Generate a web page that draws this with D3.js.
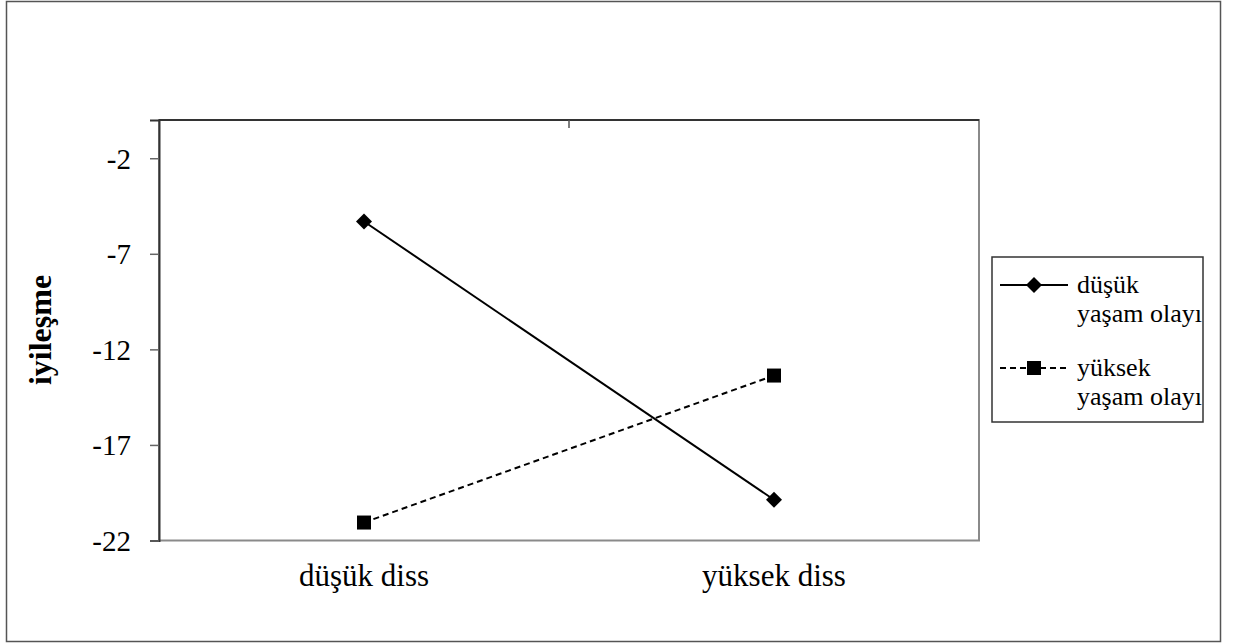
<!DOCTYPE html>
<html>
<head>
<meta charset="utf-8">
<script src="https://cdn.jsdelivr.net/npm/d3@7"></script>
<style>
  html, body { margin: 0; padding: 0; background: #fff; }
  svg { display: block; }
</style>
</head>
<body>
<svg id="chart" width="1233" height="643"></svg>
<script>
// ---- data ----
const categories = ["düşük diss", "yüksek diss"];
const seriesNames = ["düşük yaşam olayı", "yüksek yaşam olayı"];
const lowLifeEvents = [-5.31, -19.87];
const highLifeEvents = [-21.06, -13.37];
const yTicks = [-2, -7, -12, -17, -22];
const yDomain = [-22, 0];
const yTitle = "iyileşme";

const FONT = "'Liberation Serif', 'Times New Roman', Times, serif";

const series = [
  { name: seriesNames[0], values: lowLifeEvents, dash: null, marker: "diamond" },
  { name: seriesNames[1], values: highLifeEvents, dash: "6,4", marker: "square" }
];

const svg = d3.select("#chart");

// outer frame
svg.append("rect")
  .attr("x", 6.5).attr("y", 1.5).attr("width", 1214).attr("height", 640)
  .attr("fill", "#fff").attr("stroke", "#555").attr("stroke-width", 1.5);

const plot = { left: 159, right: 979, top: 120, bottom: 540.5 };

const x = d3.scaleBand().domain(categories).range([plot.left, plot.right]);
const y = d3.scaleLinear().domain(yDomain).range([plot.bottom, plot.top]);

// plot area border
svg.append("rect")
  .attr("x", plot.left).attr("y", plot.top)
  .attr("width", plot.right - plot.left).attr("height", plot.bottom - plot.top)
  .attr("fill", "none").attr("stroke", "#8a8a8a").attr("stroke-width", 2);

// top line (category axis line) and middle tick
svg.append("line")
  .attr("x1", plot.left).attr("x2", plot.right)
  .attr("y1", plot.top).attr("y2", plot.top)
  .attr("stroke", "#333").attr("stroke-width", 2);
svg.append("line")
  .attr("x1", x(categories[1])).attr("x2", x(categories[1]))
  .attr("y1", plot.top).attr("y2", plot.top + 8)
  .attr("stroke", "#555").attr("stroke-width", 1.5);

// y axis
const yAxis = d3.axisLeft(y).tickValues(yTicks).tickSize(9).tickPadding(19)
  .tickFormat(d => String(d));
const yg = svg.append("g").attr("transform", `translate(${plot.left},0)`).call(yAxis);
yg.attr("font-family", FONT).attr("font-size", 29);
yg.select(".domain").attr("stroke", "#333").attr("stroke-width", 2);
yg.selectAll(".tick line").attr("stroke", "#666").attr("stroke-width", 1.5);
yg.selectAll(".tick text")
  .attr("font-family", FONT).attr("font-size", 29)
  .attr("fill", "#000").attr("dy", "0.34em");

// y title
svg.append("text")
  .attr("transform", `translate(40,330) rotate(-90)`)
  .attr("text-anchor", "middle")
  .attr("dy", "0.35em")
  .attr("font-family", FONT)
  .attr("font-size", 32).attr("font-weight", "bold")
  .text(yTitle);

// category labels
svg.selectAll(".cat").data(categories).join("text")
  .attr("class", "cat")
  .attr("x", d => x(d) + x.bandwidth() / 2)
  .attr("y", 586)
  .attr("text-anchor", "middle")
  .attr("font-family", FONT)
  .attr("font-size", 31)
  .text(d => d);

const cx = d => x(d) + x.bandwidth() / 2;
const line = d3.line().x(d => cx(d.cat)).y(d => y(d.v));

function drawMarker(g, type, px, py) {
  if (type === "diamond") {
    g.append("path")
      .attr("d", `M${px},${py - 8}L${px + 8},${py}L${px},${py + 8}L${px - 8},${py}Z`)
      .attr("fill", "#000");
  } else {
    g.append("rect")
      .attr("x", px - 7).attr("y", py - 7).attr("width", 14).attr("height", 14)
      .attr("fill", "#000");
  }
}

series.forEach(s => {
  const pts = categories.map((c, i) => ({ cat: c, v: s.values[i] }));
  svg.append("path")
    .datum(pts)
    .attr("d", line)
    .attr("fill", "none").attr("stroke", "#000").attr("stroke-width", 2)
    .attr("stroke-dasharray", s.dash);
  const g = svg.append("g");
  pts.forEach(p => drawMarker(g, s.marker, cx(p.cat), y(p.v)));
});

// legend
const legend = svg.append("g");
legend.append("rect")
  .attr("x", 992).attr("y", 257).attr("width", 211).attr("height", 165)
  .attr("fill", "#fff").attr("stroke", "#333").attr("stroke-width", 1.5);

const legendRows = [
  { s: series[0], lineY: 285, text: ["düşük", "yaşam olayı"], baseY: 293 },
  { s: series[1], lineY: 368, text: ["yüksek", "yaşam olayı"], baseY: 376 }
];
legendRows.forEach(r => {
  legend.append("line")
    .attr("x1", 1000).attr("x2", 1068).attr("y1", r.lineY).attr("y2", r.lineY)
    .attr("stroke", "#000").attr("stroke-width", 2)
    .attr("stroke-dasharray", r.s.dash);
  drawMarker(legend, r.s.marker, 1034, r.lineY);
  r.text.forEach((t, i) => {
    legend.append("text")
      .attr("x", 1077).attr("y", r.baseY + i * 29)
      .attr("font-family", FONT)
      .attr("font-size", 26)
      .text(t);
  });
});
</script>
</body>
</html>
